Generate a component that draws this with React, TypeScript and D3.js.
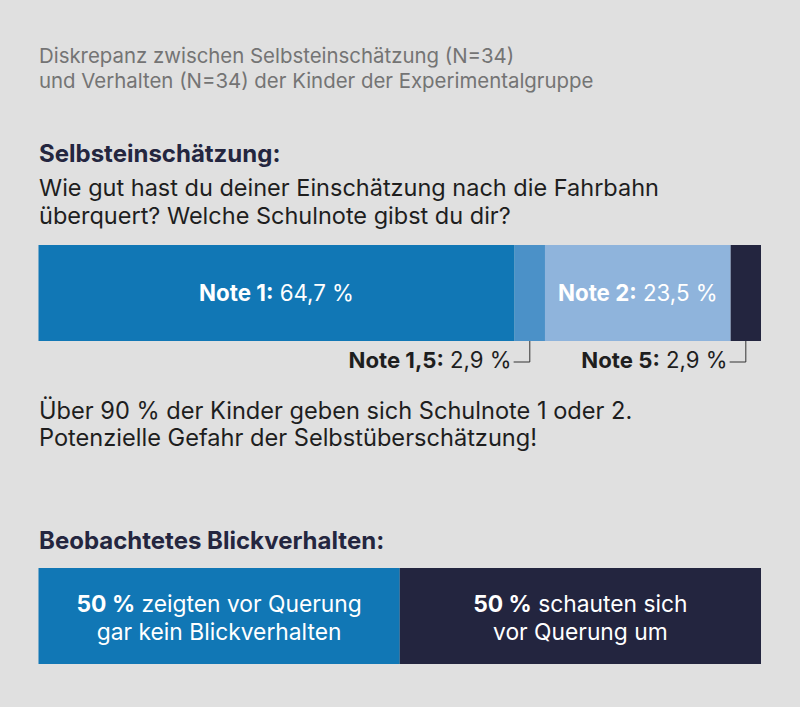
import React from "react";
import * as d3 from "d3";

const titleLines = [
  "Diskrepanz zwischen Selbsteinschätzung (N=34)",
  "und Verhalten (N=34) der Kinder der Experimentalgruppe",
];
const section1Title = "Selbsteinschätzung:";
const questionLines = [
  "Wie gut hast du deiner Einschätzung nach die Fahrbahn",
  "überquert? Welche Schulnote gibst du dir?",
];
const gradeCategories = ["Note 1", "Note 1,5", "Note 2", "Note 5"];
const gradeValues = [64.7, 2.9, 23.5, 2.9];
// proportions of the bar as drawn in the picture
const gradeBarShares = [65.9, 4.2, 25.7, 4.2];
const gradeColors = ["#1177b5", "#4b91c8", "#8fb4dc", "#23253f"];
const remarkLines = [
  "Über 90 % der Kinder geben sich Schulnote 1 oder 2.",
  "Potenzielle Gefahr der Selbstüberschätzung!",
];
const section2Title = "Beobachtetes Blickverhalten:";
const gazeValues = [50, 50];
const gazeTexts = [
  ["zeigten vor Querung", "gar kein Blickverhalten"],
  ["schauten sich", "vor Querung um"],
];
const gazeColors = ["#1177b5", "#23253f"];

const W = 800;
const H = 707;
const FONT = "Inter, 'Noto Sans', sans-serif";
const fmt = (v: number) => String(v).replace(".", ",") + " %";

export default function App() {
  const x = d3.scaleLinear().domain([0, 100]).range([38.5, 761]);
  const cum = d3.cumsum(gradeBarShares);
  const segs = gradeBarShares.map((s, i) => ({
    name: gradeCategories[i],
    value: gradeValues[i],
    x0: x(cum[i] - s),
    x1: x(cum[i]),
    color: gradeColors[i],
    inside: s > 10,
  }));
  const gcum = d3.cumsum(gazeValues);
  const gazeSegs = gazeValues.map((v, i) => ({
    v,
    x0: x(gcum[i] - v),
    x1: x(gcum[i]),
    color: gazeColors[i],
    lines: gazeTexts[i],
  }));

  const bar1Top = 245;
  const bar1Bot = 341;
  const bar2Top = 568;
  const bar2Bot = 664;

  return (
    <svg
      width={W}
      height={H}
      style={{ position: "absolute", left: 0, top: 0 }}
      fontFamily={FONT}
    >
      <rect width={W} height={H} fill="#e0e0e0" />
      {titleLines.map((t, i) => (
        <text key={i} x={39} y={63 + i * 25} fontSize={20.4} fill="#747474">
          {t}
        </text>
      ))}
      <text x={39} y={162} fontSize={24} fontWeight={700} fill="#24263f">
        {section1Title}
      </text>
      {questionLines.map((t, i) => (
        <text key={i} x={39} y={196 + i * 28} fontSize={23.5} fill="#1e1e1e">
          {t}
        </text>
      ))}
      {segs.map((s, i) => (
        <rect
          key={i}
          x={s.x0}
          y={bar1Top}
          width={s.x1 - s.x0}
          height={bar1Bot - bar1Top}
          fill={s.color}
        />
      ))}
      {segs.map((s, i) =>
        s.inside ? (
          <text
            key={"l" + i}
            x={(s.x0 + s.x1) / 2}
            y={301}
            textAnchor="middle"
            fontSize={22.3}
            fill="#ffffff"
          >
            <tspan fontWeight={700}>{s.name}:</tspan>
            <tspan> {fmt(s.value)}</tspan>
          </text>
        ) : (
          <g key={"l" + i}>
            <path
              d={`M${(s.x0 + s.x1) / 2},${bar1Bot}V${362}H${s.x0 - 1}`}
              fill="none"
              stroke="#333"
              strokeWidth={1}
            />
            <text
              x={s.x0 - 3}
              y={368}
              textAnchor="end"
              fontSize={22.2}
              fill="#1e1e1e"
            >
              <tspan fontWeight={700}>{s.name}:</tspan>
              <tspan> {fmt(s.value)}</tspan>
            </text>
          </g>
        )
      )}
      {remarkLines.map((t, i) => (
        <text key={i} x={39} y={419 + i * 27} fontSize={23.6} fill="#1e1e1e">
          {t}
        </text>
      ))}
      <text x={39} y={549} fontSize={24} fontWeight={700} fill="#24263f">
        {section2Title}
      </text>
      {gazeSegs.map((s, i) => (
        <g key={i}>
          <rect
            x={s.x0}
            y={bar2Top}
            width={s.x1 - s.x0}
            height={bar2Bot - bar2Top}
            fill={s.color}
          />
          {s.lines.map((ln, j) => (
            <text
              key={j}
              x={(s.x0 + s.x1) / 2}
              y={612 + j * 28}
              textAnchor="middle"
              fontSize={22.8}
              fill="#ffffff"
            >
              {j === 0 ? (
                <>
                  <tspan fontWeight={700}>{s.v} %</tspan>
                  <tspan> {ln}</tspan>
                </>
              ) : (
                ln
              )}
            </text>
          ))}
        </g>
      ))}
    </svg>
  );
}
